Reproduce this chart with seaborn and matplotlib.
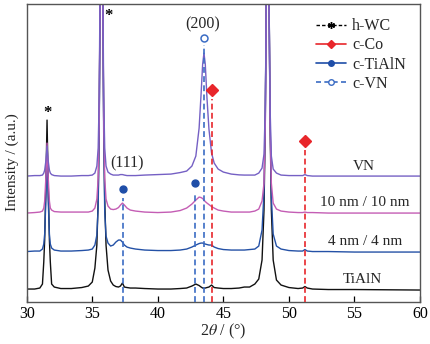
import numpy as np
import pandas as pd
import matplotlib
matplotlib.use("Agg")
import matplotlib.pyplot as plt
from matplotlib.lines import Line2D
import seaborn as sns

# ---------------- data ----------------
two_theta = [30.0, 30.6, 31.0, 31.2, 31.3, 31.37, 31.47, 31.55, 31.63, 31.73, 31.8, 31.9, 32.1,
             32.6, 33.4, 34.2, 34.7, 35.0, 35.2, 35.35, 35.45, 35.53, 35.61, 35.7, 35.79, 35.87,
             35.95, 36.05, 36.2, 36.4, 36.6, 36.8, 37.0, 37.15, 37.3, 37.45, 37.65, 37.9, 38.3,
             39.0, 40.0, 41.0, 41.7, 42.2, 42.6, 42.9, 43.15, 43.3, 43.42, 43.52, 43.62, 43.75,
             43.9, 44.1, 44.3, 44.6, 45.0, 45.6, 46.2, 46.6, 47.0, 47.4, 47.7, 47.95, 48.1, 48.2,
             48.29, 48.38, 48.47, 48.56, 48.66, 48.8, 49.05, 49.4, 50.0, 50.7, 51.05, 51.22, 51.4,
             51.8, 53.0, 55.0, 57.0, 60.0]

int_tialn = [1, 1, 2, 6, 28, 50, 112, 170, 112, 50, 28, 6, 3,
             1.5, 1.5, 2.5, 4, 8, 22, 45, 90, 170, 320, 900, 320, 170,
             90, 45, 20, 9, 5, 3.5, 3, 4, 7, 3, 2.5, 2, 2,
             1.5, 1, 1, 1.5, 2, 4, 6, 4.5, 3, 2, 2, 2, 2.5,
             3, 5, 2.5, 2, 1.5, 1.5, 2, 3, 3, 6, 11, 30, 80, 170,
             320, 900, 320, 170, 80, 30, 10, 5, 2.5, 1.5, 2, 3.5, 2,
             1, 0.5, 0.5, 0.3, 0]

int_4nm = [0.5, 1, 1, 3, 8, 18, 55, 100, 55, 18, 8, 4, 2,
           1, 1, 1.5, 2, 3, 7, 17, 45, 120, 280, 900, 280, 120,
           40, 16, 9, 6, 7, 10, 12, 12, 10, 7, 5, 4, 3,
           2, 1.5, 1.5, 2, 3, 5, 7, 8.5, 9, 9, 8.5, 8, 7.5,
           7, 7, 5, 3.5, 2.5, 2, 2, 2, 2.5, 3, 6, 22, 60, 140,
           280, 900, 280, 140, 55, 18, 6, 3, 1.5, 1, 1, 2.5, 1,
           0.5, 0.5, 0, 0, 0]

int_10nm = [0, 0.5, 1, 2, 5, 12, 38, 70, 38, 12, 5, 3, 1.5,
            1, 1, 1, 1, 2, 5, 14, 35, 95, 250, 900, 250, 95,
            35, 14, 7, 4, 3.5, 4, 5.5, 8, 10, 8, 5, 3, 2,
            1, 0.5, 1, 2.5, 5, 9, 13, 16, 15.5, 14.5, 13, 11.5, 10,
            8.5, 6.5, 5, 3, 2, 1, 1, 1, 1, 2, 4, 12, 30, 90,
            240, 900, 240, 90, 30, 10, 4, 2, 1, 0.5, 0.5, 1, 0.5,
            0.5, 0, 0, 0, 0]

int_vn = [0, 0.5, 0.5, 1, 3, 6, 16, 30, 16, 6, 3, 1.5, 0.5,
          0, 0, 0.5, 0.5, 1, 3, 10, 28, 80, 220, 900, 220, 80,
          28, 10, 4, 2, 1, 1, 1, 1.5, 1.5, 1, 0.5, 0.5, 0.5,
          1, 1.5, 2, 3.5, 5, 10, 20, 48, 82, 112, 123, 112, 78,
          47, 23, 13, 7, 4, 2, 1.2, 1, 1, 1, 3, 8, 22, 70,
          200, 900, 200, 70, 20, 7, 3, 1, 0.5, 0.5, 0.5, 1.5, 0.5,
          0, 0, 0, 0, 0]

samples = ["TiAlN", "4 nm / 4 nm", "10 nm / 10 nm", "VN"]
offsets = [12, 50, 89, 126]
curve_colors = ["#111111", "#2451a6", "#c45db4", "#7560c4"]
label_x = [55.6, 55.8, 55.8, 55.7]
label_y = [23, 61, 100, 136]

wc_star_x = [31.55, 36.2]
wc_star_y = [192, 289]
co_x = [44.15, 51.25]
co_y = [212, 161]
tialn_x = [37.37, 42.8]
tialn_y = [113, 119]
vn_x = [43.5]
vn_y = [264]

# ---------------- style ----------------
sns.set_theme(style="white")
plt.rcParams["font.family"] = ["Liberation Serif", "DejaVu Serif"]
plt.rcParams["mathtext.fontset"] = "stix"

fig = plt.figure(figsize=(4.31, 3.44), dpi=100)
ax = fig.add_axes([0.062, 0.122, 0.9125, 0.866])

frames = []
for name, vals, off in zip(samples, [int_tialn, int_4nm, int_10nm, int_vn], offsets):
    frames.append(pd.DataFrame({"two_theta": two_theta,
                                "y": np.array(vals, dtype=float) + off,
                                "sample": name}))
df = pd.concat(frames, ignore_index=True)

for name, col in zip(samples, curve_colors):
    sns.lineplot(data=df[df["sample"] == name], x="two_theta", y="y", color=col,
                 lw=1.0, ax=ax, legend=False, sort=True, estimator=None)

blue_ref = "#3b6cc4"
red_ref = "#e8262b"
# reference lines
for x, y in zip(tialn_x, tialn_y):
    ax.vlines(x, 0, y - 9, colors=blue_ref, linestyles=(0, (3.5, 2)), lw=1.2, zorder=3)
for x, y in zip(vn_x, vn_y):
    ax.vlines(x, 0, y - 7, colors=blue_ref, linestyles=(0, (3.5, 2)), lw=1.2, zorder=3)
for x, y in zip(co_x, co_y):
    ax.vlines(x, 0, y - 9, colors=red_ref, linestyles=(0, (3.5, 2)), lw=1.2, zorder=3)

ax.plot(tialn_x, tialn_y, "o", color="#1f4ea8", ms=5, ls="none", zorder=4)
ax.plot(vn_x, vn_y, "o", mfc="white", mec=blue_ref, mew=1.1, ms=5, ls="none", zorder=4)
ax.plot(co_x, co_y, "D", color=red_ref, ms=6, ls="none", zorder=4)
for x, y in zip(wc_star_x, wc_star_y):
    ax.text(x, y - 3, "*", ha="center", va="center", fontsize=12, fontweight="bold", color="black")

ax.text(43.45, 278, "(200)", ha="center", va="center", fontsize=11.5)
ax.text(37.65, 139, "(111)", ha="center", va="center", fontsize=11.5)
for name, lx, ly in zip(samples, label_x, label_y):
    ax.text(lx, ly, name, ha="center", va="center", fontsize=11)

ax.set_xlim(30, 60)
ax.set_ylim(0, 298)
ax.set_xticks([30, 35, 40, 45, 50, 55, 60])
ax.set_yticks([])
ax.tick_params(axis="x", direction="in", length=4, width=0.9, labelsize=11.5, pad=3,
               bottom=True, colors="black")
for s in ax.spines.values():
    s.set_color("#555555")
    s.set_linewidth(1.0)
ax.set_xlabel(r"2$\theta$ / (°)", fontsize=11.5, labelpad=0)
ax.set_ylabel("Intensity / (a.u.)", fontsize=11)
ax.yaxis.set_label_coords(-0.02, 0.47)

handles = [
    Line2D([], [], color="black", ls=(0, (2.5, 1.5)), lw=1.0, marker=(6, 2, 0), ms=5),
    Line2D([], [], color=red_ref, ls="-", lw=1.2, marker="D", ms=4.5),
    Line2D([], [], color="#1f4ea8", ls="-", lw=1.2, marker="o", ms=4),
    Line2D([], [], color=blue_ref, ls=(0, (3, 2)), lw=1.2, marker="o", mfc="white", ms=4),
]
ax.legend(handles, ["h-WC", "c-Co", "c-TiAlN", "c-VN"], loc="upper left",
          bbox_to_anchor=(0.71, 0.985), frameon=False, fontsize=11.5, handlelength=1.9,
          handletextpad=0.4, labelspacing=0.2, borderaxespad=0.2)

fig.savefig("out.png", dpi=100)
